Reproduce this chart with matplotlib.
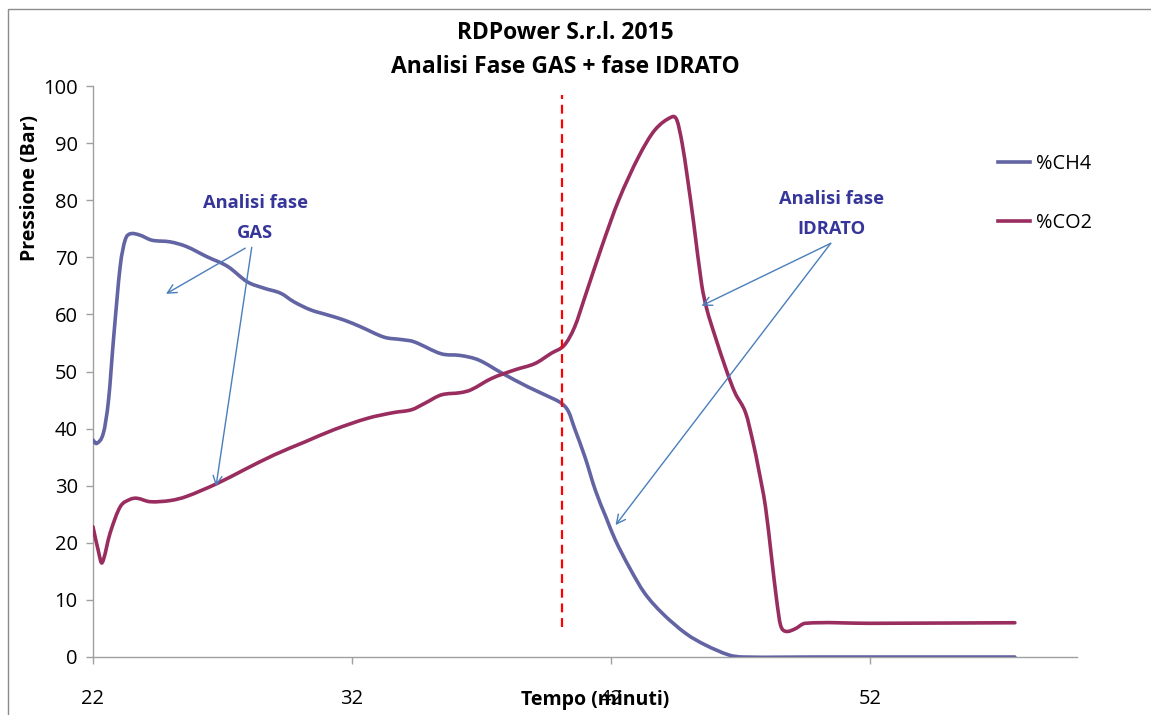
import numpy as np
import matplotlib
matplotlib.use("Agg")
import matplotlib.pyplot as plt
from matplotlib.path import Path
from matplotlib.patches import PathPatch, Rectangle
from matplotlib.lines import Line2D

plt.rcParams['font.family'] = ['Open Sans', 'DejaVu Sans']

# tempo (minuti) / percentuale CH4
t_ch4 = [22.0, 22.14, 22.4, 22.6, 22.8, 23.05, 23.24, 23.43, 23.8, 24.27, 24.98, 25.6,
         26.4, 27.2, 27.96, 28.6, 29.25, 29.76, 30.4, 31.06, 31.7, 32.35, 33.25, 33.9,
         34.4, 35.45, 36.2, 36.9, 37.8, 38.8, 39.6, 40.1, 40.36, 40.6, 41.0, 41.4,
         41.8, 42.17, 42.7, 43.3, 44.0, 44.9, 45.65, 46.56, 47.1, 50.0, 57.6]
ch4 = [38.0, 37.4, 39.2, 45.0, 56.1, 68.4, 73.0, 74.1, 73.9, 73.0, 72.7, 71.9,
       70.1, 68.4, 65.7, 64.6, 63.7, 62.2, 60.8, 59.9, 59.0, 57.8, 56.0, 55.6,
       55.2, 53.1, 52.8, 52.0, 49.7, 47.3, 45.6, 44.4, 43.0, 40.0, 35.0, 29.2,
       24.6, 20.5, 15.8, 11.2, 7.6, 4.1, 2.1, 0.35, 0.0, 0.0, 0.0]

# tempo (minuti) / percentuale CO2
t_co2 = [22.0, 22.2, 22.35, 22.66, 23.05, 23.43, 23.7, 24.2, 24.98, 25.6, 26.8, 27.8,
         29.0, 30.2, 31.3, 32.6, 33.6, 34.3, 34.8, 35.45, 36.2, 36.6, 37.4, 38.3,
         39.07, 39.7, 40.2, 40.6, 41.0, 41.65, 42.3, 43.07, 43.7, 44.36, 44.55, 44.75,
         44.95, 45.2, 45.5, 45.7, 46.0, 46.5, 46.8, 47.2, 47.5, 47.7, 47.97, 48.2,
         48.4, 48.55, 48.75, 49.1, 49.5, 52.0, 57.6]
co2 = [22.8, 18.7, 16.5, 21.7, 26.3, 27.6, 27.8, 27.2, 27.4, 28.1, 30.4, 32.7,
       35.4, 37.7, 39.8, 41.8, 42.8, 43.3, 44.4, 45.9, 46.3, 46.8, 48.8, 50.3,
       51.4, 53.2, 54.6, 57.8, 63.1, 71.9, 80.0, 87.6, 92.3, 94.6, 94.0, 90.0,
       84.1, 75.9, 65.4, 61.0, 56.5, 49.7, 46.2, 42.8, 37.4, 33.0, 26.3, 17.6,
       10.0, 5.6, 4.5, 4.9, 5.9, 5.9, 6.0]

divider_x = 40.1
divider_y = (5.3, 98.4)

c_ch4 = '#6364A3'
c_co2 = '#9A2D60'
c_txt = '#36369A'
c_arrow = '#4A7EBB'


def smooth_path(x, y):
    # cubic hermite segments as bezier curves (excel-like smoothed line)
    x = np.asarray(x, float)
    y = np.asarray(y, float)
    n = len(x)
    m = np.zeros(n)
    m[0] = (y[1] - y[0]) / (x[1] - x[0])
    m[-1] = (y[-1] - y[-2]) / (x[-1] - x[-2])
    for i in range(1, n - 1):
        m[i] = (y[i + 1] - y[i - 1]) / (x[i + 1] - x[i - 1])
    verts = [(x[0], y[0])]
    codes = [Path.MOVETO]
    for i in range(n - 1):
        dx = (x[i + 1] - x[i]) / 3
        verts += [(x[i] + dx, y[i] + m[i] * dx),
                  (x[i + 1] - dx, y[i + 1] - m[i + 1] * dx),
                  (x[i + 1], y[i + 1])]
        codes += [Path.CURVE4] * 3
    return Path(verts, codes)


fig = plt.figure(figsize=(11.51, 7.15), dpi=100)
ax = fig.add_axes([93 / 1151, 1 - 657 / 715, (1077 - 93) / 1151, (657 - 86) / 715])

ax.add_patch(PathPatch(smooth_path(t_ch4, ch4), fill=False, edgecolor=c_ch4, lw=2.6,
                       capstyle='round', joinstyle='round', zorder=3))
ax.add_patch(PathPatch(smooth_path(t_co2, co2), fill=False, edgecolor=c_co2, lw=2.6,
                       capstyle='round', joinstyle='round', zorder=3))

ax.plot([divider_x, divider_x], divider_y, color='#FF0000', lw=1.6,
        dashes=(4, 2.6), zorder=4)

ax.set_xlim(22, 60)
ax.set_ylim(0, 100)
ax.set_xticks([22, 32, 42, 52])
ax.set_yticks(np.arange(0, 101, 10))
for s in ['top', 'right']:
    ax.spines[s].set_visible(False)
for s in ['left', 'bottom']:
    ax.spines[s].set_color('#A0A0A0')
    ax.spines[s].set_linewidth(1.0)
ax.tick_params(axis='both', colors='#A0A0A0', length=5, width=1.0, labelcolor='black',
               labelsize=14.5)
ax.tick_params(axis='x', pad=18)
ax.tick_params(axis='y', pad=6)

fig.text(565 / 1151, 1 - 33 / 715, 'RDPower S.r.l. 2015', ha='center', va='center',
         fontsize=16.5, fontweight='bold')
fig.text(565 / 1151, 1 - 67 / 715, 'Analisi Fase GAS + fase IDRATO', ha='center',
         va='center', fontsize=16.5, fontweight='bold')
fig.text(30 / 1151, 1 - 188 / 715, 'Pressione (Bar)', rotation=90, ha='center',
         va='center', fontsize=14, fontweight='bold')
fig.text(595 / 1151, 1 - 700 / 715, 'Tempo (minuti)', ha='center', va='center',
         fontsize=14, fontweight='bold')

# annotazioni
arrow = dict(arrowstyle='->', color=c_arrow, lw=1.0, mutation_scale=16,
             shrinkA=0, shrinkB=0)
ax.text(28.26, 76.9, 'Analisi fase\nGAS', ha='center', va='center', color=c_txt,
        fontsize=13.2, fontweight='bold', linespacing=1.85)
ax.annotate('', xy=(24.82, 63.6), xytext=(27.88, 71.6), arrowprops=arrow)
ax.annotate('', xy=(26.75, 29.9), xytext=(28.13, 71.75), arrowprops=arrow)

ax.text(50.52, 77.6, 'Analisi fase\nIDRATO', ha='center', va='center', color=c_txt,
        fontsize=13.2, fontweight='bold', linespacing=1.85)
ax.annotate('', xy=(45.5, 61.5), xytext=(50.49, 72.45), arrowprops=arrow)
ax.annotate('', xy=(42.18, 23.1), xytext=(50.49, 72.45), arrowprops=arrow)

handles = [Line2D([], [], color=c_ch4, lw=2.6), Line2D([], [], color=c_co2, lw=2.6)]
fig.legend(handles, ['%CH4', '%CO2'], loc='upper left',
           bbox_to_anchor=(980 / 1151, 1 - 136 / 715), frameon=False, fontsize=14.3,
           handlelength=1.6, handletextpad=0.3, labelspacing=1.95)

fig.patches.append(Rectangle((8 / 1151, -0.1), 1.2, 1.1 - 9 / 715,
                             transform=fig.transFigure, fill=False,
                             edgecolor='#8C8C8C', lw=1.0))

fig.savefig('out.png', dpi=100)
